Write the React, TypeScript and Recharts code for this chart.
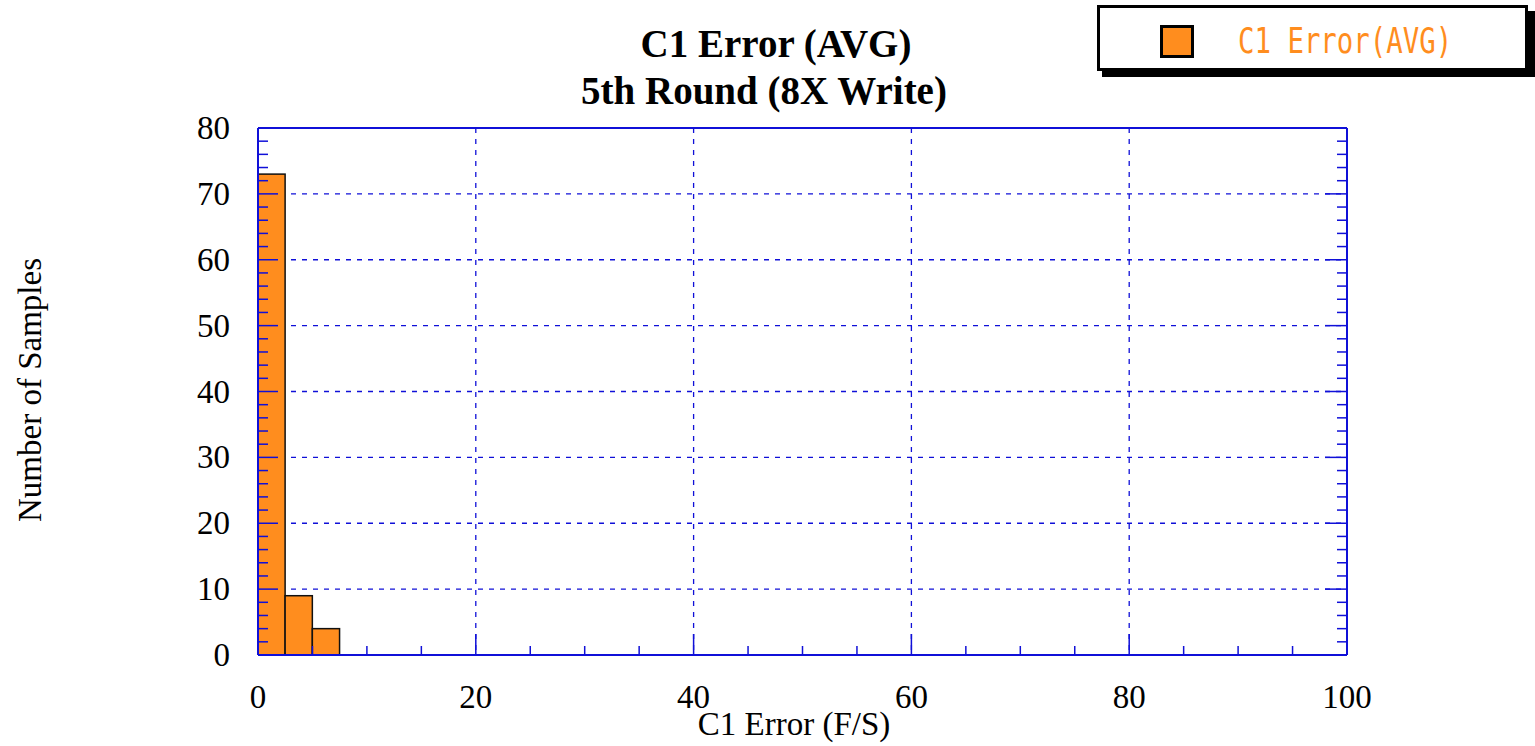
import React from 'react'
import { ComposedChart, Bar, XAxis, YAxis, CartesianGrid } from 'recharts'

// histogram bins (mid point of each 2.5 wide bin) and counts
const binMids = [1.25, 3.75, 6.25]
const binCounts = [73, 9, 4]
const binWidth = 2.5

const xTicks = [0, 5, 10, 15, 20, 25, 30, 35, 40, 45, 50, 55, 60, 65, 70, 75, 80, 85, 90, 95, 100]
const xLabelTicks = [0, 20, 40, 60, 80, 100]
const xGrid = [20, 40, 60, 80]
const yTicks = [0, 2, 4, 6, 8, 10, 12, 14, 16, 18, 20, 22, 24, 26, 28, 30, 32, 34, 36, 38, 40, 42, 44, 46, 48, 50, 52, 54, 56, 58, 60, 62, 64, 66, 68, 70, 72, 74, 76, 78, 80]
const yLabelTicks = [0, 10, 20, 30, 40, 50, 60, 70, 80]
const yGrid = [10, 20, 30, 40, 50, 60, 70]

const titleLines = ['C1 Error (AVG)', '5th Round (8X Write)']
const xTitle = 'C1 Error (F/S)'
const yTitle = 'Number of Samples'
const seriesName = 'C1 Error(AVG)'

const data = binMids.map((mid, i) => ({ mid, count: binCounts[i] }))

const W = 1535
const H = 746
// each axis takes 1px, so plot area ends up at x 258..1347, y 128..655
const margin = { top: 127, right: 187, bottom: 90, left: 257 }
const plotW = 1347 - 258
const binPx = (plotW * binWidth) / 100

const BLUE = '#1010d8'
const ORANGE = '#ff8d1e'
const FONT = '"Liberation Serif", "Times New Roman", serif'

// full-width histogram bar, centred on the position recharts gives the bin
const HistBar = (props: any) => {
  const { x, y, width, height } = props
  if (!height) return null
  const cx = x + width / 2
  return (
    <rect
      x={cx - binPx / 2}
      y={y}
      width={binPx}
      height={height}
      fill={ORANGE}
      stroke="#111"
      strokeWidth={1.5}
    />
  )
}

const BottomTick = (props: any) => {
  const { x, y, payload } = props
  const v = payload.value
  const major = xLabelTicks.includes(v)
  return (
    <g>
      <line x1={x} x2={x} y1={y - 1} y2={y - 1 - (major ? 20 : 8)} stroke={BLUE} strokeWidth={1.5} />
      {major && (
        <text x={x} y={y + 53} textAnchor="middle" fontFamily={FONT} fontSize={33} fill="#000">
          {v}
        </text>
      )}
    </g>
  )
}

const TopTick = (props: any) => {
  const { x, y, payload } = props
  const major = xLabelTicks.includes(payload.value)
  return <line x1={x} x2={x} y1={y} y2={y + (major ? 20 : 8)} stroke={BLUE} strokeWidth={1.5} />
}

const LeftTick = (props: any) => {
  const { x, y, payload } = props
  const v = payload.value
  const major = yLabelTicks.includes(v)
  return (
    <g>
      <line x1={x} x2={x + (major ? 20 : 10)} y1={y} y2={y} stroke={BLUE} strokeWidth={1.5} />
      {major && (
        <text x={x - 28} y={y + 11} textAnchor="end" fontFamily={FONT} fontSize={33} fill="#000">
          {v}
        </text>
      )}
    </g>
  )
}

const RightTick = (props: any) => {
  const { x, y, payload } = props
  const major = yLabelTicks.includes(payload.value)
  return <line x1={x} x2={x - (major ? 22 : 10)} y1={y} y2={y} stroke={BLUE} strokeWidth={1.5} />
}

const axisLine = { stroke: BLUE, strokeWidth: 2 }

export default function App() {
  return (
    <div style={{ position: 'absolute', left: 0, top: 0, width: W, height: H, background: '#fff' }}>
      <ComposedChart width={W} height={H} data={data} margin={margin} barCategoryGap={0} barGap={0}>
        <CartesianGrid
          stroke={BLUE}
          strokeDasharray="5 6"
          strokeWidth={1.3}
          verticalValues={xGrid}
          horizontalValues={yGrid}
        />
        <Bar
          dataKey="count"
          name={seriesName}
          fill={ORANGE}
          shape={<HistBar />}
          isAnimationActive={false}
        />
        <XAxis
          xAxisId={0}
          dataKey="mid"
          type="number"
          domain={[0, 100]}
          ticks={xTicks}
          interval={0}
          height={1}
          tickSize={0}
          tickMargin={0}
          tickLine={false}
          axisLine={axisLine}
          tick={<BottomTick />}
          allowDataOverflow
        />
        <XAxis
          xAxisId="top"
          orientation="top"
          type="number"
          domain={[0, 100]}
          ticks={xTicks}
          interval={0}
          height={1}
          tickSize={0}
          tickMargin={0}
          tickLine={false}
          axisLine={axisLine}
          tick={<TopTick />}
          allowDataOverflow
        />
        <YAxis
          yAxisId={0}
          type="number"
          domain={[0, 80]}
          ticks={yTicks}
          interval={0}
          width={1}
          tickSize={0}
          tickMargin={0}
          tickLine={false}
          axisLine={axisLine}
          tick={<LeftTick />}
          allowDataOverflow
        />
        <YAxis
          yAxisId="right"
          orientation="right"
          type="number"
          domain={[0, 80]}
          ticks={yTicks}
          interval={0}
          width={1}
          tickSize={0}
          tickMargin={0}
          tickLine={false}
          axisLine={axisLine}
          tick={<RightTick />}
          allowDataOverflow
        />
      </ComposedChart>
      <svg width={W} height={H} style={{ position: 'absolute', left: 0, top: 0, pointerEvents: 'none' }}>
        <text x={776} y={57} textAnchor="middle" fontFamily={FONT} fontWeight="bold" fontSize={39}>
          {titleLines[0]}
        </text>
        <text x={764} y={104} textAnchor="middle" fontFamily={FONT} fontWeight="bold" fontSize={39}>
          {titleLines[1]}
        </text>
        <text x={794} y={735} textAnchor="middle" fontFamily={FONT} fontSize={33}>
          {xTitle}
        </text>
        <text x={41} y={390} textAnchor="middle" fontFamily={FONT} fontSize={33} transform="rotate(-90 41 390)">
          {yTitle}
        </text>
        {/* legend */}
        <g transform="translate(1095 0)">
          <rect x={7} y={11} width={433} height={66} fill="#000" />
          <rect x={3.5} y={6.5} width={428} height={63} fill="#fff" stroke="#000" strokeWidth={3} />
          <rect x={66.5} y={26.5} width={31} height={30} fill={ORANGE} stroke="#000" strokeWidth={3} />
          <text
            x={143}
            y={53}
            fontFamily='"DejaVu Sans Mono", monospace'
            fontSize={36}
            fill={ORANGE}
            transform="translate(143 0) scale(0.76 1) translate(-143 0)"
          >
            {seriesName}
          </text>
        </g>
      </svg>
    </div>
  )
}
